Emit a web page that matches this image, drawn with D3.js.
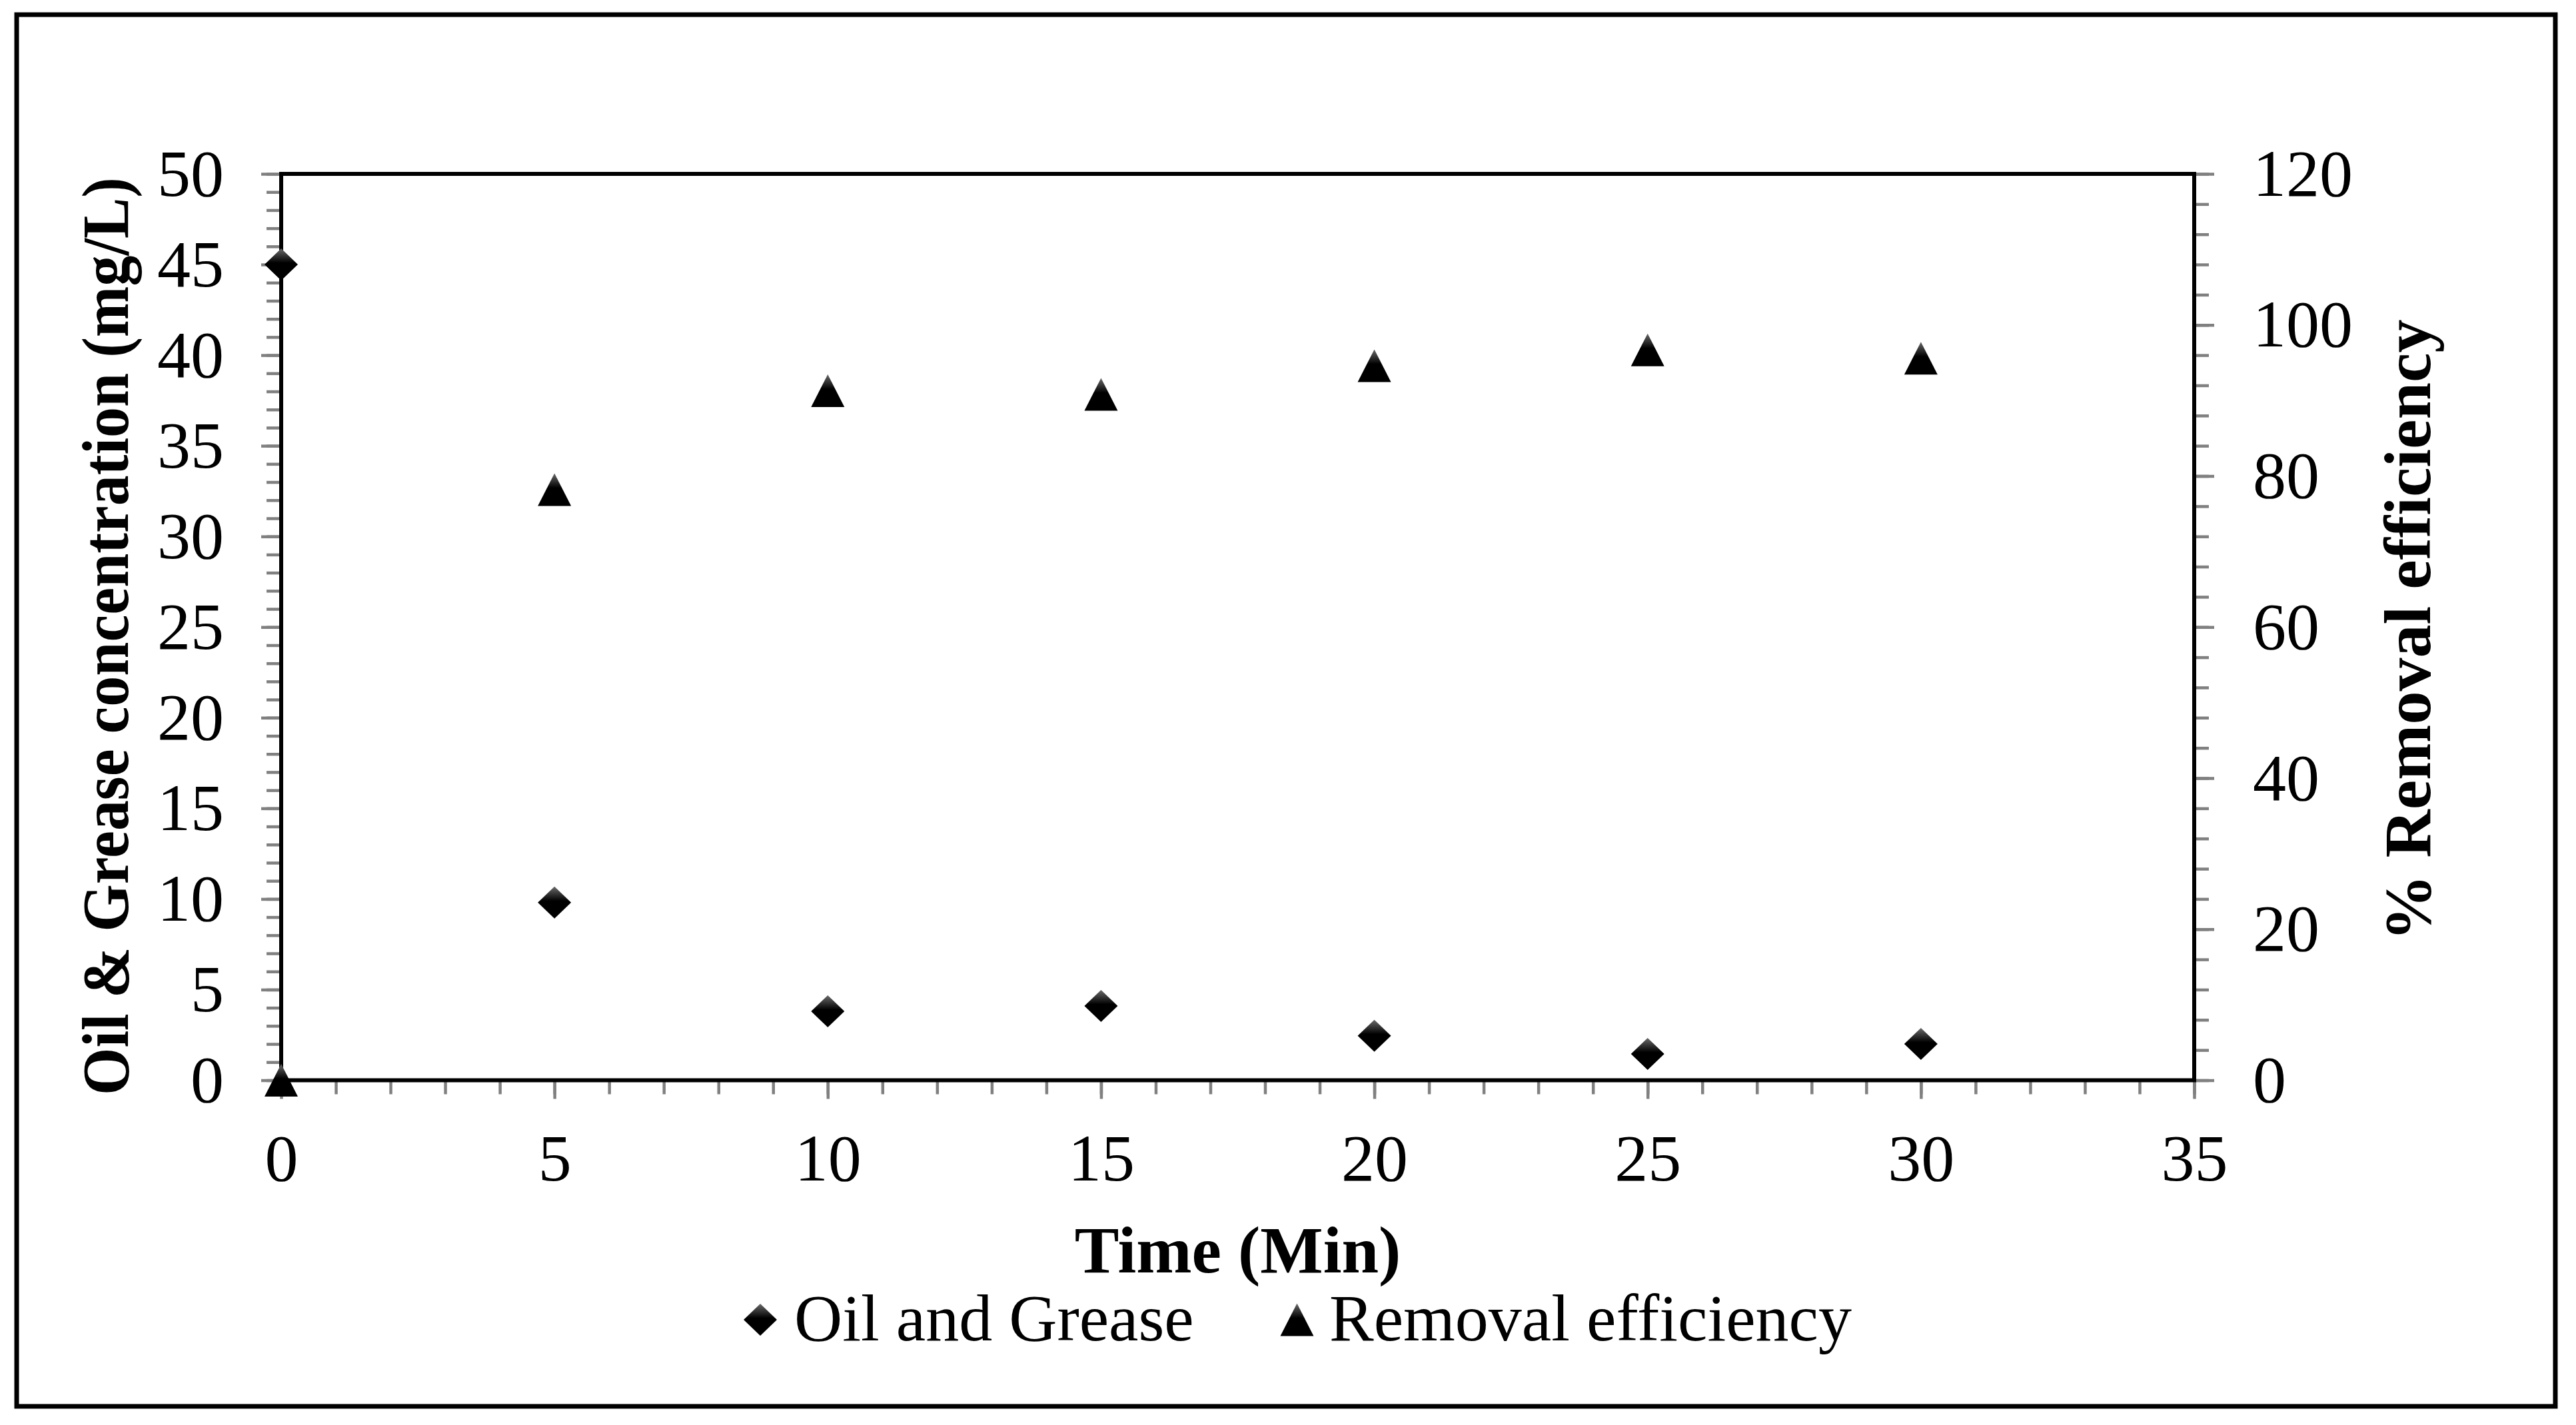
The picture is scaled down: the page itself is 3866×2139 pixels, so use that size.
<!DOCTYPE html>
<html>
<head>
<meta charset="utf-8">
<script src="https://cdn.jsdelivr.net/npm/d3@7"></script>
<style>
  body { margin: 0; background: #fff; }
  text { font-family: "Liberation Serif", "Times New Roman", serif; fill: #000; }
</style>
</head>
<body>
<script>
// data
var times = [0, 5, 10, 15, 20, 25, 30];
var oilGrease = [45, 9.8, 3.8, 4.1, 2.45, 1.45, 2.0];
var removal = [0, 78.2, 91.3, 90.8, 94.6, 96.7, 95.6];

var xTicks = d3.range(0, 36, 5);
var yLeftTicks = d3.range(0, 51, 5);
var yRightTicks = d3.range(0, 121, 20);

var W = 3866, H = 2139;
var plot = {left: 422, top: 261, right: 3293, bottom: 1621.5};

var svg = d3.select("body").append("svg")
  .attr("width", W)
  .attr("height", H);

svg.append("rect").attr("width", W).attr("height", H).attr("fill", "#fff");

// outer frame
svg.append("rect")
  .attr("x", 25).attr("y", 22)
  .attr("width", 3810).attr("height", 2089)
  .attr("fill", "none").attr("stroke", "#000").attr("stroke-width", 7);

var defs = svg.append("defs");
var grad = defs.append("linearGradient")
  .attr("id", "markFill")
  .attr("x1", 0).attr("y1", 0).attr("x2", 0).attr("y2", 1);
grad.append("stop").attr("offset", "0%").attr("stop-color", "#6a6a6a");
grad.append("stop").attr("offset", "45%").attr("stop-color", "#000");
grad.append("stop").attr("offset", "100%").attr("stop-color", "#000");

var x = d3.scaleLinear().domain([0, 35]).range([plot.left, plot.right]);
var yL = d3.scaleLinear().domain([0, 50]).range([plot.bottom, plot.top]);
var yR = d3.scaleLinear().domain([0, 120]).range([plot.bottom, plot.top]);

function styleAxis(g) {
  g.select(".domain").remove();
  g.selectAll(".tick line").attr("stroke", "#808080").attr("stroke-width", 4.5);
  g.selectAll(".tick text").attr("font-size", 100).attr("fill", "#000")
    .attr("font-family", "Liberation Serif");
}

// minor ticks
svg.append("g").attr("transform", "translate(" + plot.left + ",0)")
  .call(d3.axisLeft(yL).tickValues(d3.range(0, 51, 1)).tickSize(22).tickFormat(""))
  .call(styleAxis);
svg.append("g").attr("transform", "translate(" + plot.right + ",0)")
  .call(d3.axisRight(yR).tickValues(d3.range(0, 121, 4)).tickSize(22).tickFormat(""))
  .call(styleAxis);
svg.append("g").attr("transform", "translate(0," + plot.bottom + ")")
  .call(d3.axisBottom(x).tickValues(d3.range(0, 36, 1)).tickSize(21).tickFormat(""))
  .call(styleAxis);

// major ticks + labels
svg.append("g").attr("transform", "translate(" + plot.left + ",0)")
  .call(d3.axisLeft(yL).tickValues(yLeftTicks).tickSize(30).tickPadding(56))
  .call(styleAxis)
  .selectAll(".tick text").attr("dy", 32);
svg.append("g").attr("transform", "translate(" + plot.right + ",0)")
  .call(d3.axisRight(yR).tickValues(yRightTicks).tickSize(30).tickPadding(58))
  .call(styleAxis)
  .selectAll(".tick text").attr("dy", 32);
svg.append("g").attr("transform", "translate(0," + plot.bottom + ")")
  .call(d3.axisBottom(x).tickValues(xTicks).tickSize(28))
  .call(styleAxis)
  .selectAll(".tick text").attr("y", 150).attr("dy", 0);

// plot frame
svg.append("rect")
  .attr("x", plot.left).attr("y", plot.top)
  .attr("width", plot.right - plot.left).attr("height", plot.bottom - plot.top)
  .attr("fill", "none").attr("stroke", "#000").attr("stroke-width", 6);

// markers
var diamond = "M0,-24L25,0L0,24L-25,0Z";
var triangle = "M0,-24.5L25,24.5L-25,24.5Z";

svg.append("g").selectAll("path")
  .data(times)
  .enter().append("path")
  .attr("d", diamond)
  .attr("transform", function(d, i) { return "translate(" + x(d) + "," + yL(oilGrease[i]) + ")"; })
  .attr("fill", "url(#markFill)");

svg.append("g").selectAll("path")
  .data(times)
  .enter().append("path")
  .attr("d", triangle)
  .attr("transform", function(d, i) { return "translate(" + x(d) + "," + yR(removal[i]) + ")"; })
  .attr("fill", "url(#markFill)");

// axis titles
svg.append("text")
  .attr("transform", "translate(192,955) rotate(-90)")
  .attr("text-anchor", "middle")
  .attr("font-size", 100).attr("font-weight", "bold")
  .attr("textLength", 1378).attr("lengthAdjust", "spacingAndGlyphs")
  .text("Oil & Grease concentration (mg/L)");

svg.append("text")
  .attr("transform", "translate(3647,946) rotate(-90)")
  .attr("text-anchor", "middle")
  .attr("font-size", 100).attr("font-weight", "bold")
  .text("% Removal efficiency");

svg.append("text")
  .attr("x", (plot.left + plot.right) / 2).attr("y", 1910)
  .attr("text-anchor", "middle")
  .attr("font-size", 100).attr("font-weight", "bold")
  .text("Time (Min)");

// legend
var legend = [
  {name: "Oil and Grease", shape: diamond, mx: 1141, tx: 1192},
  {name: "Removal efficiency", shape: triangle, mx: 1946.5, tx: 1995}
];
var lg = svg.append("g").selectAll("g").data(legend).enter().append("g");
lg.append("path")
  .attr("d", function(d) { return d.shape; })
  .attr("transform", function(d) { return "translate(" + d.mx + ",1981)"; })
  .attr("fill", "url(#markFill)");
lg.append("text")
  .attr("x", function(d) { return d.tx; })
  .attr("y", 2012)
  .attr("font-size", 100)
  .text(function(d) { return d.name; });
</script>
</body>
</html>
